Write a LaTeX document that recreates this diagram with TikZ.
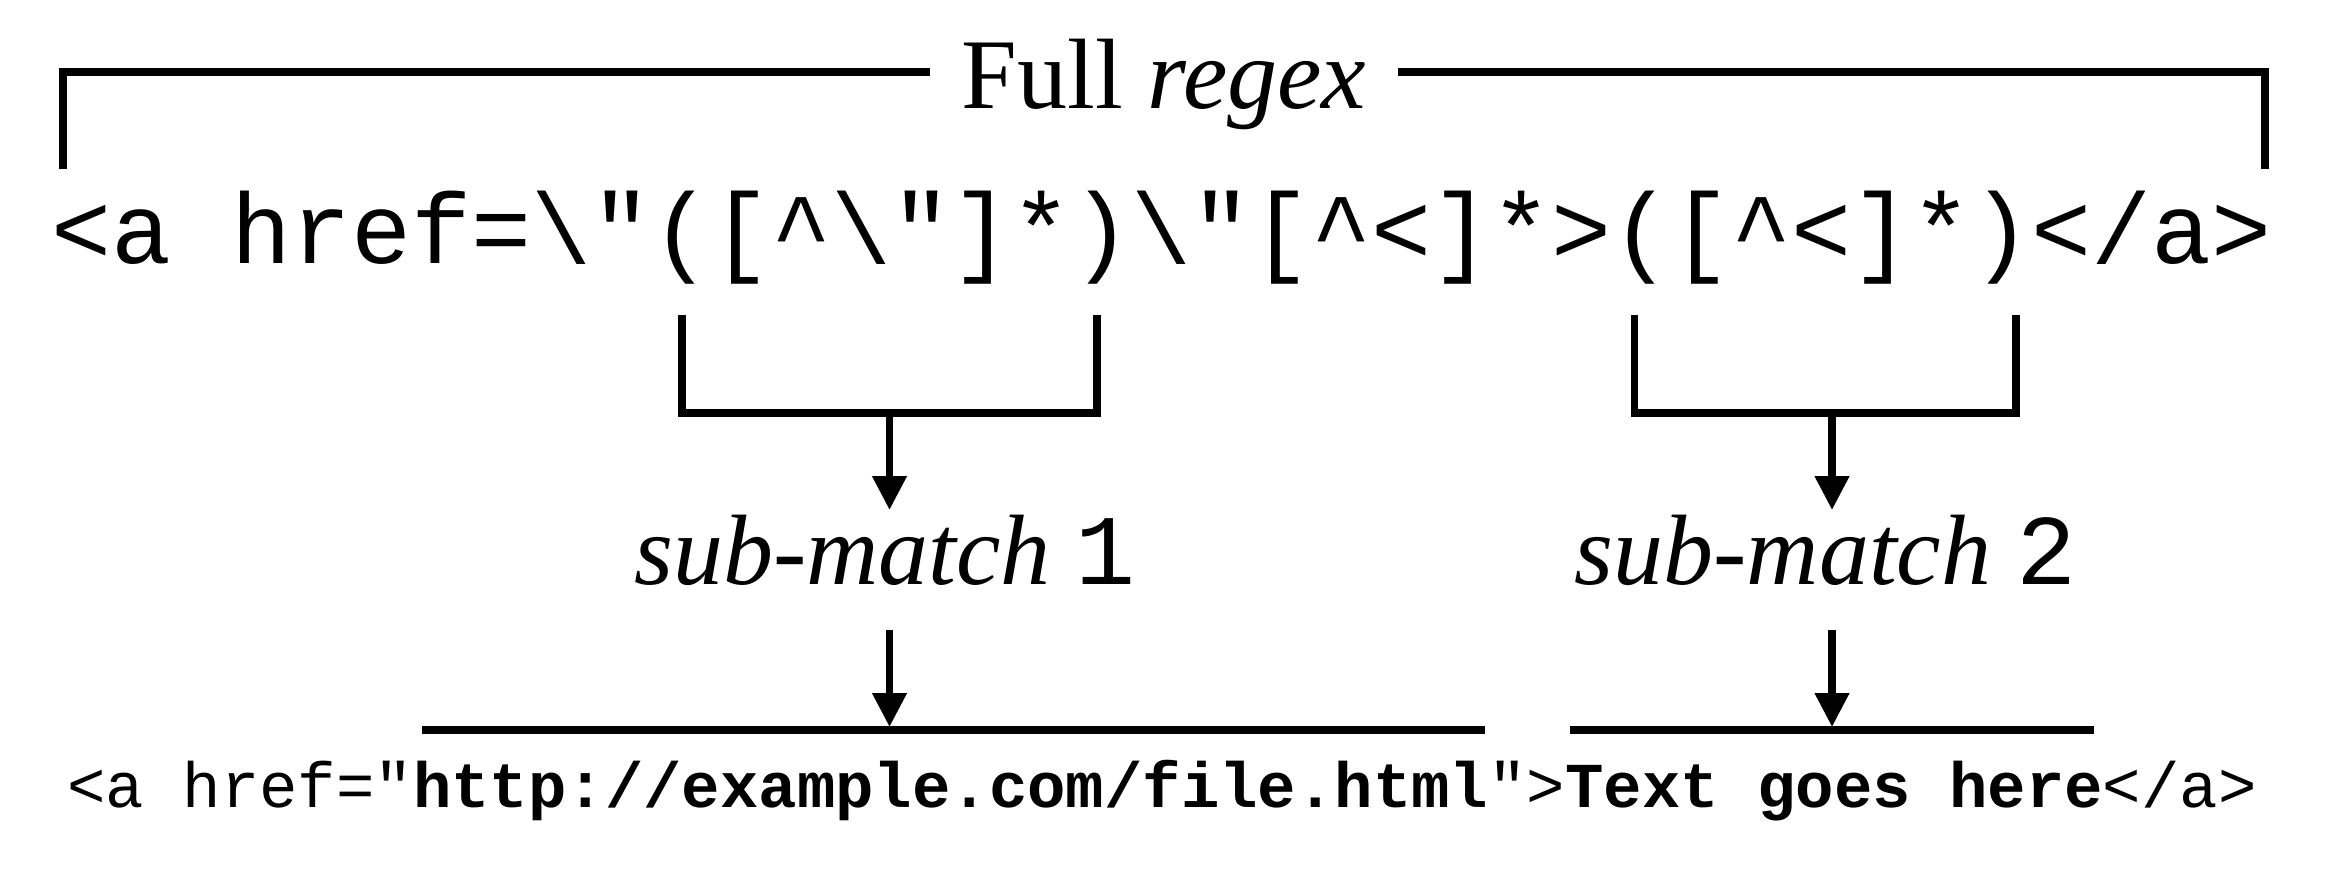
\documentclass[tikz,border=0pt]{standalone}
\usepackage{fontspec}
\setmainfont{Liberation Serif}
\setmonofont{Liberation Mono}
\usetikzlibrary{arrows.meta}
\begin{document}
\begin{tikzpicture}[x=0.5pt,y=-0.5pt,
  line/.style={line width=3.75pt,line join=miter},
  arr/.style={line width=3.75pt,-{Triangle[length=17pt,width=16.5pt]}},
  txt/.style={inner sep=0pt,anchor=base},
  big/.style={font=\fontsize{50pt}{60pt}\selectfont},
  small/.style={font=\fontsize{32pt}{38pt}\selectfont}]
\useasboundingbox (0,0) rectangle (2328,874);
% top label and bracket
\node[txt,big,inner xsep=15.5pt] (full) at (1164,108) {Full \textit{regex}};
\coordinate (lb) at (63,169);
\coordinate (rb) at (2265,169);
\coordinate (ty) at (0,72);
\draw[line] (lb) |- (full.west |- ty);
\draw[line] (rb) |- (full.east |- ty);
% regex
\node[txt,big] (re) at (1162,263) {\ttfamily <a href=\textbackslash"([\textasciicircum\textbackslash"]*)\textbackslash"[\textasciicircum<]*>([\textasciicircum<]*)</a>};
% group brackets
\coordinate (g1l) at (682,315);
\coordinate (g1bl) at (682,413);
\coordinate (g1br) at (1097,413);
\coordinate (g1r) at (1097,315);
\coordinate (g2l) at (1634.5,315);
\coordinate (g2bl) at (1634.5,413);
\coordinate (g2br) at (2016,413);
\coordinate (g2r) at (2016,315);
\draw[line] (g1l) -- (g1bl) -- (g1br) -- (g1r);
\draw[line] (g2l) -- (g2bl) -- (g2br) -- (g2r);
\coordinate (g1s) at (889.5,413);
\coordinate (g2s) at (1832,413);
\coordinate (a1e) at (889.5,510);
\coordinate (a2e) at (1832,510);
\draw[arr] (g1s) -- (a1e);
\draw[arr] (g2s) -- (a2e);
% sub-match labels
\node[txt,big] (s1) at (885,584) {\textit{sub-match} \texttt{1}};
\node[txt,big] (s2) at (1825.5,584) {\textit{sub-match} \texttt{2}};
\coordinate (b1s) at (889.5,630);
\coordinate (b2s) at (1832,630);
\coordinate (b1e) at (889.5,727);
\coordinate (b2e) at (1832,727);
\draw[arr] (b1s) -- (b1e);
\draw[arr] (b2s) -- (b2e);
% underlines
\coordinate (u1l) at (422,730);
\coordinate (u1r) at (1485,730);
\coordinate (u2l) at (1570,730);
\coordinate (u2r) at (2094,730);
\draw[line] (u1l) -- (u1r);
\draw[line] (u2l) -- (u2r);
% sample text
\node[txt,small] (ex) at (1162,807) {\ttfamily <a href="\textbf{http://example.com/file.html}">\textbf{Text goes here}</a>};
\end{tikzpicture}
\end{document}
